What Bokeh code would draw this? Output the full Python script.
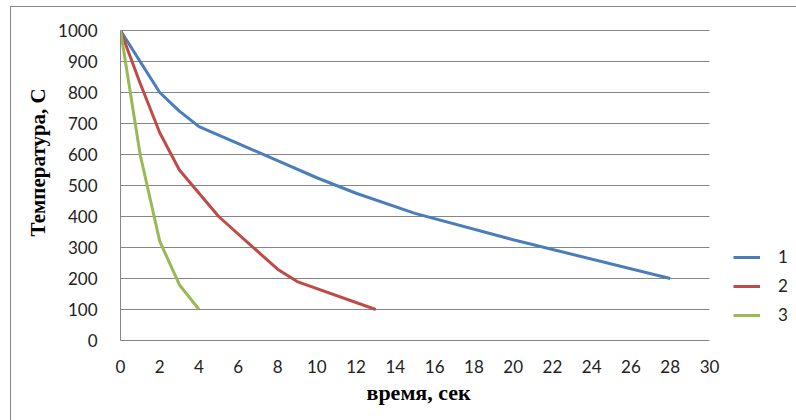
from bokeh.plotting import figure
from bokeh.models import Legend, LegendItem, Range1d, FixedTicker, Title
from bokeh.embed import file_html
from bokeh.resources import INLINE

# Data
t1 = [0, 2, 3, 4, 6, 8, 10, 12, 15, 20, 28]
T1 = [1000, 800, 740, 690, 635, 580, 525, 475, 410, 325, 200]
t2 = [0, 1, 2, 3, 5, 8, 9, 13]
T2 = [1000, 830, 670, 550, 400, 230, 190, 100]
t3 = [0, 1, 2, 3, 4]
T3 = [1000, 600, 320, 180, 100]
series_names = ["1", "2", "3"]
x_ticks = list(range(0, 31, 2))
y_ticks = list(range(0, 1001, 100))

colors = ["#4A7EBB", "#BE4B48", "#98B954"]

x_max = x_ticks[-1]
y_max = y_ticks[-1]
# frame spans to the right edge so the legend (drawn inside it) is not clipped
x_end = x_max * (796 - 119) / (708 - 119)
y_end = y_max * (339 - 27) / (339 - 29)

p = figure(width=786, height=414, output_backend="svg", toolbar_location=None,
           x_range=Range1d(0, x_end), y_range=Range1d(0, y_end),
           min_border_left=109, min_border_right=0, min_border_top=21, min_border_bottom=81,
           margin=(6, 0, 0, 10))
p.styles = {"border-left": "1.5px solid #868686", "border-top": "1.5px solid #868686"}
p.outline_line_color = None
p.background_fill_color = "white"
p.border_fill_color = "white"

for ax in (p.xaxis[0], p.yaxis[0]):
    ax.major_tick_line_color = None
    ax.minor_tick_line_color = None
    ax.axis_line_color = "#868686"
    ax.major_label_text_font = "Lato"
    ax.major_label_text_font_size = "17px"
    ax.major_label_text_color = "#222222"

p.xaxis[0].ticker = FixedTicker(ticks=x_ticks)
p.yaxis[0].ticker = FixedTicker(ticks=y_ticks)
p.xaxis[0].bounds = (0, x_max)
p.yaxis[0].bounds = (0, y_max)
p.xaxis[0].major_label_standoff = 13
p.yaxis[0].major_label_standoff = 17

p.add_layout(Title(text="время, сек", align="left", offset=246,
                   text_font="Liberation Serif", text_font_style="bold",
                   text_font_size="22px", text_color="#000000", standoff=4), "below")

p.add_layout(Title(text="Температура, С", align="left", offset=104,
                   text_font="Liberation Serif", text_font_style="bold",
                   text_font_size="21px", text_color="#000000", standoff=12), "left")

p.xgrid.grid_line_color = None
p.ygrid.grid_line_color = None
p.segment(x0=[0] * len(y_ticks), x1=[x_max] * len(y_ticks), y0=y_ticks, y1=y_ticks,
          line_color="#868686", line_width=1)

renderers = []
for (xs, ys, c) in [(t1, T1, colors[0]), (t2, T2, colors[1]), (t3, T3, colors[2])]:
    r = p.line(xs, ys, line_color=c, line_width=3)
    renderers.append(r)

legend = Legend(items=[LegendItem(label=n, renderers=[r]) for n, r in zip(series_names, renderers)],
                location=(613, 15), padding=5, spacing=8, glyph_width=27, glyph_height=20, margin=0,
                label_standoff=18, label_text_font="Lato", label_text_font_size="17px",
                label_text_color="#222222", border_line_color=None, background_fill_alpha=0)
p.add_layout(legend, "center")

open("out.html", "w").write(file_html(p, INLINE))
